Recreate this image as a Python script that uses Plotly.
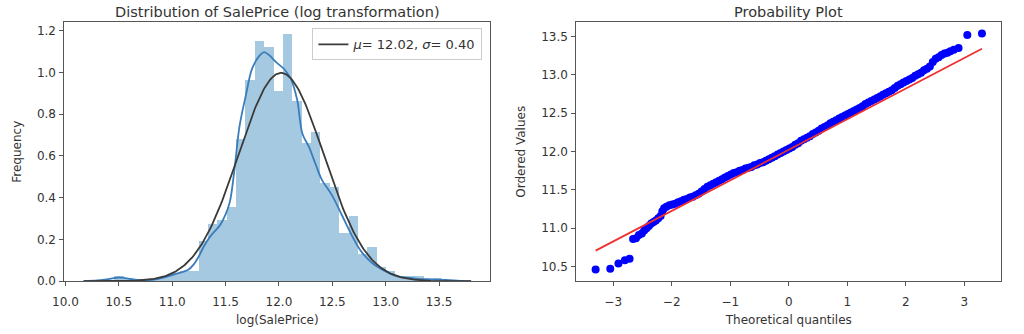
import numpy as np
import plotly.graph_objects as go

# ---- histogram of log(SalePrice) (density-normalised bins) ----
BIN_START = 10.460
BIN_WIDTH = 0.08784
hist_density = [
    0.023, 0.016, 0.0, 0.0, 0.016, 0.023, 0.040, 0.050, 0.050, 0.194,
    0.275, 0.290, 0.354, 0.680, 0.964, 1.151, 1.120, 0.910, 1.183, 0.862,
    0.660, 0.714, 0.470, 0.450, 0.230, 0.310, 0.128, 0.162, 0.066, 0.047,
    0.023, 0.023, 0.023, 0.0, 0.016,
]

# ---- kernel density estimate ----
kde_x = [10.17, 10.30, 10.40, 10.45, 10.50, 10.55, 10.60, 10.70, 10.80, 10.90,
         11.00, 11.10, 11.15, 11.20, 11.25, 11.30, 11.35, 11.40, 11.45, 11.50,
         11.54, 11.58, 11.63, 11.69, 11.75, 11.82, 11.86, 11.91, 11.97, 12.05,
         12.11, 12.17, 12.22, 12.28, 12.34, 12.40, 12.50, 12.59, 12.68, 12.77,
         12.87, 12.99, 13.10, 13.20, 13.30, 13.40, 13.50, 13.60, 13.70, 13.80]
kde_y = [0.001, 0.004, 0.010, 0.015, 0.018, 0.016, 0.011, 0.005, 0.006, 0.015,
         0.030, 0.045, 0.055, 0.080, 0.120, 0.170, 0.210, 0.240, 0.270, 0.320,
         0.380, 0.520, 0.740, 0.890, 1.020, 1.081, 1.097, 1.082, 1.050, 1.015,
         0.970, 0.870, 0.706, 0.644, 0.565, 0.488, 0.409, 0.316, 0.222, 0.143,
         0.089, 0.050, 0.025, 0.017, 0.012, 0.010, 0.008, 0.005, 0.002, 0.0005]

# ---- fitted normal parameters ----
MU = 12.02
SIGMA = 0.40

# ---- probability plot: theoretical quantiles vs ordered values ----
theo_q = [-3.30, -3.05, -2.91, -2.80, -2.72,
          -2.66, -2.61, -2.56, -2.51, -2.47, -2.43, -2.39, -2.35, -2.31, -2.27,
          -2.23, -2.19, -2.16, -2.13, -2.09, -2.04, -1.99, -1.94, -1.89, -1.84,
          -1.79, -1.74, -1.69, -1.64, -1.59, -1.54, -1.49, -1.44, -1.39, -1.34,
          -1.29, -1.24, -1.19, -1.14, -1.09, -1.04, -0.99, -0.94, -0.89, -0.84,
          -0.79, -0.74, -0.69, -0.64, -0.59, -0.54, -0.49, -0.44, -0.39, -0.34,
          -0.29, -0.24, -0.19, -0.14, -0.09, -0.04, 0.01, 0.06, 0.11, 0.16,
          0.21, 0.26, 0.31, 0.36, 0.41, 0.46, 0.51, 0.56, 0.61, 0.66,
          0.71, 0.76, 0.81, 0.86, 0.91, 0.96, 1.01, 1.06, 1.11, 1.16,
          1.21, 1.26, 1.31, 1.36, 1.41, 1.46, 1.51, 1.56, 1.61, 1.66,
          1.71, 1.76, 1.81, 1.86, 1.91, 1.96, 2.01, 2.06, 2.11, 2.16,
          2.21, 2.26, 2.31, 2.36, 2.41, 2.46, 2.51, 2.56, 2.61, 2.66,
          2.71, 2.76, 2.82, 2.90, 3.05, 3.30]
ordered_vals = [10.46, 10.47, 10.54, 10.58, 10.60,
                10.86, 10.87, 10.91, 10.93, 10.97, 11.00, 11.03, 11.06, 11.08, 11.10,
                11.13, 11.16, 11.22, 11.26, 11.28, 11.30, 11.31, 11.32, 11.34, 11.35,
                11.37, 11.38, 11.40, 11.41, 11.43, 11.45, 11.48, 11.51, 11.54, 11.56,
                11.58, 11.60, 11.62, 11.64, 11.66, 11.68, 11.70, 11.72, 11.73, 11.75,
                11.76, 11.78, 11.79, 11.80, 11.82, 11.83, 11.85, 11.86, 11.88, 11.90,
                11.92, 11.94, 11.96, 11.98, 12.00, 12.02, 12.04, 12.06, 12.09, 12.11,
                12.14, 12.16, 12.18, 12.20, 12.23, 12.25, 12.27, 12.30, 12.32, 12.34,
                12.37, 12.39, 12.41, 12.43, 12.45, 12.47, 12.49, 12.51, 12.53, 12.55,
                12.57, 12.59, 12.62, 12.64, 12.66, 12.68, 12.70, 12.72, 12.74, 12.76,
                12.78, 12.80, 12.83, 12.86, 12.88, 12.90, 12.92, 12.94, 12.96, 12.99,
                13.01, 13.03, 13.06, 13.08, 13.11, 13.17, 13.21, 13.23, 13.26, 13.28,
                13.29, 13.31, 13.33, 13.35, 13.52, 13.54]
fit_q = [-3.30, 3.30]
fit_vals = [10.707, 13.341]

FONT = "DejaVu Sans"
TEXT = "#333333"
FRAME = "#555555"

fig = go.Figure()

bin_centers = [BIN_START + BIN_WIDTH * (i + 0.5) for i in range(len(hist_density))]
fig.add_trace(go.Bar(
    x=bin_centers, y=hist_density, width=BIN_WIDTH,
    marker=dict(color="rgba(31,119,180,0.4)", line=dict(width=0)),
    showlegend=False, xaxis="x", yaxis="y", hoverinfo="skip",
))
fig.add_trace(go.Scatter(
    x=kde_x, y=kde_y, mode="lines", line=dict(color="#3b7dbb", width=1.8, shape="spline"),
    showlegend=False, xaxis="x", yaxis="y",
))
norm_x = np.linspace(10.17, 13.80, 300)
norm_y = np.exp(-0.5 * ((norm_x - MU) / SIGMA) ** 2) / (SIGMA * np.sqrt(2 * np.pi))
fig.add_trace(go.Scatter(
    x=norm_x, y=norm_y, mode="lines", line=dict(color="#3a3a3a", width=1.8),
    name=f"<i>μ</i>= {MU:.2f}, <i>σ</i>= {SIGMA:.2f}", showlegend=True,
    xaxis="x", yaxis="y",
))

fig.add_trace(go.Scatter(
    x=theo_q, y=ordered_vals, mode="markers",
    marker=dict(color="#0000ff", size=8, line=dict(width=0)),
    showlegend=False, xaxis="x2", yaxis="y2",
))
fig.add_trace(go.Scatter(
    x=fit_q, y=fit_vals, mode="lines", line=dict(color="#ee3030", width=1.8),
    showlegend=False, xaxis="x2", yaxis="y2",
))

W, H = 1024, 334
ydom = [(H - 287.3) / H, (H - 22.7) / H]

axis_common = dict(
    showgrid=False, zeroline=False, showline=True, mirror=True,
    linecolor=FRAME, linewidth=1, ticks="outside", ticklen=4, tickcolor=FRAME,
    tickfont=dict(family=FONT, size=12, color=TEXT),
)
label_font = dict(family=FONT, size=12, color=TEXT)

fig.update_layout(
    width=W, height=H, margin=dict(l=0, r=0, t=0, b=0),
    paper_bgcolor="white", plot_bgcolor="white",
    bargap=0,
    font=dict(family=FONT, color=TEXT),
    xaxis=dict(domain=[53 / W, 484 / W], range=[9.99, 13.98], anchor="y",
               tickvals=[10.0, 10.5, 11.0, 11.5, 12.0, 12.5, 13.0, 13.5], tickformat=".1f",
               ticklabelstandoff=5,
               title=dict(text="log(SalePrice)", font=label_font, standoff=7),
               **axis_common),
    yaxis=dict(domain=ydom, range=[0, 1.24], anchor="x",
               tickvals=[0.0, 0.2, 0.4, 0.6, 0.8, 1.0, 1.2], tickformat=".1f",
               ticklabelstandoff=1,
               title=dict(text="Frequency", font=label_font, standoff=12),
               **axis_common),
    xaxis2=dict(domain=[571 / W, 1001 / W], range=[-3.63, 3.63], anchor="y2",
                tickvals=[-3, -2, -1, 0, 1, 2, 3],
                ticktext=["\u22123", "\u22122", "\u22121", "0", "1", "2", "3"],
                ticklabelstandoff=5,
                title=dict(text="Theoretical quantiles", font=label_font, standoff=7),
                **axis_common),
    yaxis2=dict(domain=ydom, range=[10.307, 13.688], anchor="x2",
                tickvals=[10.5, 11.0, 11.5, 12.0, 12.5, 13.0, 13.5], tickformat=".1f",
                ticklabelstandoff=1,
                title=dict(text="Ordered Values", font=label_font, standoff=12),
                **axis_common),
    legend=dict(x=476 / W, y=(H - 29) / H, xanchor="right", yanchor="top",
                bgcolor="rgba(255,255,255,0.8)", bordercolor="#cccccc", borderwidth=1,
                font=dict(family=FONT, size=13, color=TEXT), itemwidth=30,
                tracegroupgap=0),
    annotations=[
        dict(text="Distribution of SalePrice (log transformation)", x=(53 + 484) / 2 / W,
             y=(H - 12) / H, xref="paper", yref="paper", showarrow=False,
             xanchor="center", yanchor="middle", font=dict(family=FONT, size=14.5, color=TEXT)),
        dict(text="Probability Plot", x=(571 + 1001) / 2 / W,
             y=(H - 12) / H, xref="paper", yref="paper", showarrow=False,
             xanchor="center", yanchor="middle", font=dict(family=FONT, size=14.5, color=TEXT)),
    ],
)

fig.write_html("out.html")
